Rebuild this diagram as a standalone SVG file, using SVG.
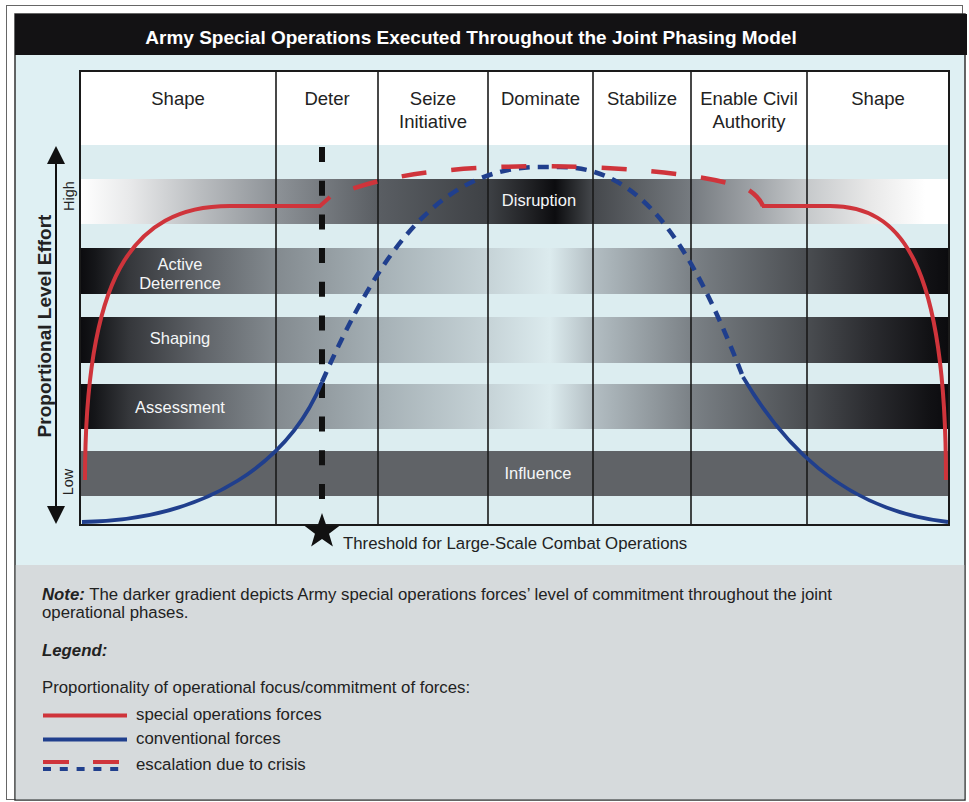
<svg xmlns="http://www.w3.org/2000/svg" width="969" height="802" viewBox="0 0 969 802">
  <style>
    .t { font-family: "Liberation Sans", Arial, sans-serif; fill: #222; }
    .hdr { font-size: 18.5px; text-anchor: middle; }
    .band { font-size: 16.5px; fill: #f4f6f7; text-anchor: middle; }
    .leg { font-size: 16.8px; }
    .col { stroke: #1a1a1a; stroke-width: 1.6; }
    .sof { fill: none; stroke: #cf343b; stroke-width: 4; }
    .sofd { fill: none; stroke: #cf343b; stroke-width: 4.5; stroke-dasharray: 25 25; stroke-dashoffset: 25; }
    .cf { fill: none; stroke: #203f8d; stroke-width: 3.8; }
    .cfd { fill: none; stroke: #203f8d; stroke-width: 4.5; stroke-dasharray: 11 8; }
  </style>
  <defs>
    <linearGradient id="gDisrupt" gradientUnits="userSpaceOnUse" x1="80" y1="0" x2="949" y2="0">
      <stop offset="0" stop-color="#ffffff"/>
      <stop offset="0.0575" stop-color="#e8e9ea"/>
      <stop offset="0.138" stop-color="#babdc0"/>
      <stop offset="0.2255" stop-color="#8d9297"/>
      <stop offset="0.343" stop-color="#5a5e63"/>
      <stop offset="0.4695" stop-color="#3e4145"/>
      <stop offset="0.518" stop-color="#202124"/>
      <stop offset="0.5466" stop-color="#0c0c0f"/>
      <stop offset="0.5696" stop-color="#2a2c2f"/>
      <stop offset="0.5903" stop-color="#45484c"/>
      <stop offset="0.7031" stop-color="#767b80"/>
      <stop offset="0.7825" stop-color="#a3a7ab"/>
      <stop offset="0.8366" stop-color="#c6c9cb"/>
      <stop offset="0.9091" stop-color="#e8e8e8"/>
      <stop offset="0.9724" stop-color="#ffffff"/>
      <stop offset="1" stop-color="#ffffff"/>
    </linearGradient>
    <linearGradient id="gBand" gradientUnits="userSpaceOnUse" x1="80" y1="0" x2="949" y2="0">
      <stop offset="0" stop-color="#0b0b0e"/>
      <stop offset="0.0173" stop-color="#151619"/>
      <stop offset="0.0575" stop-color="#36383c"/>
      <stop offset="0.138" stop-color="#5f6368"/>
      <stop offset="0.2255" stop-color="#838a8f"/>
      <stop offset="0.343" stop-color="#a5b0b5"/>
      <stop offset="0.4695" stop-color="#c6d3d7"/>
      <stop offset="0.5408" stop-color="#dcebee"/>
      <stop offset="0.5903" stop-color="#b3bec3"/>
      <stop offset="0.7031" stop-color="#7b8186"/>
      <stop offset="0.8366" stop-color="#4a4d51"/>
      <stop offset="0.9091" stop-color="#2b2c30"/>
      <stop offset="0.9781" stop-color="#111114"/>
      <stop offset="1" stop-color="#0b0b0e"/>
    </linearGradient>
    <marker id="arrow" markerUnits="userSpaceOnUse" markerWidth="18" markerHeight="18" viewBox="0 0 18 18" refX="2" refY="9" orient="auto-start-reverse">
      <path d="M0,0 L18,9 L0,18 z" fill="#111"/>
    </marker>
  </defs>

  <!-- frame -->
  <g id="frame">
    <rect x="0" y="0" width="969" height="802" fill="#ffffff"/>
    <rect x="6.5" y="5.5" width="956" height="794" fill="none" stroke="#666" stroke-width="1"/>
    <rect x="15" y="14" width="950" height="786" fill="#dff0f3" stroke="#333" stroke-width="1.5"/>
    <rect x="15" y="14" width="952" height="41" fill="#131214"/>
    <rect x="15.75" y="565" width="948.5" height="234.25" fill="#d6dadc"/>
    <text class="t" x="471" y="44" font-size="19" font-weight="bold" text-anchor="middle" style="fill:#ffffff">Army Special Operations Executed Throughout the Joint Phasing Model</text>
  </g>

  <!-- chart body -->
  <g id="chart">
    <rect x="80" y="71" width="869" height="454" fill="#dcedf0"/>
    <rect x="80" y="71" width="869" height="74" fill="#ffffff"/>
  </g>

  <g id="band-disruption">
    <rect x="80" y="179" width="869" height="45" fill="url(#gDisrupt)"/>
    <text class="t band" x="539" y="206">Disruption</text>
  </g>
  <g id="band-active-deterrence">
    <rect x="80" y="248" width="869" height="46" fill="url(#gBand)"/>
    <text class="t band" x="180" y="270">Active</text>
    <text class="t band" x="180" y="289">Deterrence</text>
  </g>
  <g id="band-shaping">
    <rect x="80" y="317" width="869" height="46" fill="url(#gBand)"/>
    <text class="t band" x="180" y="344">Shaping</text>
  </g>
  <g id="band-assessment">
    <rect x="80" y="384" width="869" height="45" fill="url(#gBand)"/>
    <text class="t band" x="180" y="413">Assessment</text>
  </g>
  <g id="band-influence">
    <rect x="80" y="451" width="869" height="45" fill="#606367"/>
    <text class="t band" x="538" y="479">Influence</text>
  </g>

  <!-- column dividers and phase headers -->
  <g id="columns">
    <line class="col" x1="276" y1="71" x2="276" y2="525"/>
    <line class="col" x1="378" y1="71" x2="378" y2="525"/>
    <line class="col" x1="488" y1="71" x2="488" y2="525"/>
    <line class="col" x1="593" y1="71" x2="593" y2="525"/>
    <line class="col" x1="691" y1="71" x2="691" y2="525"/>
    <line class="col" x1="807" y1="71" x2="807" y2="525"/>
    <rect x="80" y="71" width="869" height="454" fill="none" stroke="#1a1a1a" stroke-width="2"/>
  </g>
  <g id="phase-shape-1"><text class="t hdr" x="178" y="105">Shape</text></g>
  <g id="phase-deter"><text class="t hdr" x="327" y="105">Deter</text></g>
  <g id="phase-seize"><text class="t hdr" x="433" y="105">Seize</text><text class="t hdr" x="433" y="128">Initiative</text></g>
  <g id="phase-dominate"><text class="t hdr" x="540.5" y="105">Dominate</text></g>
  <g id="phase-stabilize"><text class="t hdr" x="642" y="105">Stabilize</text></g>
  <g id="phase-enable"><text class="t hdr" x="749" y="105">Enable Civil</text><text class="t hdr" x="749" y="128">Authority</text></g>
  <g id="phase-shape-2"><text class="t hdr" x="878" y="105">Shape</text></g>

  <!-- y axis -->
  <g id="axis">
    <line x1="56" y1="162" x2="56" y2="508" stroke="#111" stroke-width="2" marker-start="url(#arrow)" marker-end="url(#arrow)"/>
    <text class="t" transform="translate(50.5,326) rotate(-90)" font-size="19" font-weight="bold" text-anchor="middle">Proportional Level Effort</text>
    <text class="t" transform="translate(74,196) rotate(-90)" font-size="14.5" text-anchor="middle">High</text>
    <text class="t" transform="translate(73,482) rotate(-90)" font-size="14.5" text-anchor="middle">Low</text>
  </g>

  <!-- threshold -->
  <g id="threshold">
    <line x1="322" y1="147" x2="322" y2="500" stroke="#111" stroke-width="6" stroke-dasharray="15 18.7"/>
    <polygon points="322,513 326.35,525.51 339.59,525.78 329.04,533.79 332.87,546.47 322,538.9 311.13,546.47 314.96,533.79 304.41,525.78 317.65,525.51" fill="#111"/>
    <text class="t" x="343" y="549" font-size="16.8">Threshold for Large-Scale Combat Operations</text>
  </g>

  <!-- connectors: effort curves -->
  <g id="connectors">
    <path class="cf" d="M82,522 C210,520 290,460 322,382"/>
    <path class="cfd" d="M322,382 C380,250 440,167 540,167 L560,167 C640,167 690,240 743,377"/>
    <path class="cf" d="M743,377 C780,440 840,510 948,522"/>
    <path class="sof" d="M85,480 C85,280 130,206 230,206 L320,206 L330,197"/>
    <path class="sofd" d="M330,197 C380,176 440,167 540,166 C640,167 710,176 745,188 Q758,195 763,206"/>
    <path class="sof" d="M762,206 L830,206 C900,206 946,260 946,480"/>
  </g>

  <!-- note and legend -->
  <g id="legend">
    <text class="t leg" x="42" y="600"><tspan font-weight="bold" font-style="italic">Note:</tspan> The darker gradient depicts Army special operations forces’ level of commitment throughout the joint</text>
    <text class="t leg" x="42" y="617.5">operational phases.</text>
    <text class="t leg" x="42" y="656" font-weight="bold" font-style="italic">Legend:</text>
    <text class="t leg" x="42" y="693">Proportionality of operational focus/commitment of forces:</text>
    <line x1="43" y1="715.5" x2="127" y2="715.5" stroke="#cf343b" stroke-width="4"/>
    <text class="t leg" x="136" y="720">special operations forces</text>
    <line x1="43" y1="739.5" x2="127" y2="739.5" stroke="#203f8d" stroke-width="4"/>
    <text class="t leg" x="136" y="744">conventional forces</text>
    <line x1="43" y1="762" x2="119" y2="762" stroke="#cf343b" stroke-width="4" stroke-dasharray="26 24"/>
    <line x1="43" y1="769" x2="119" y2="769" stroke="#203f8d" stroke-width="4" stroke-dasharray="8 8.8"/>
    <text class="t leg" x="136" y="770">escalation due to crisis</text>
  </g>
</svg>
